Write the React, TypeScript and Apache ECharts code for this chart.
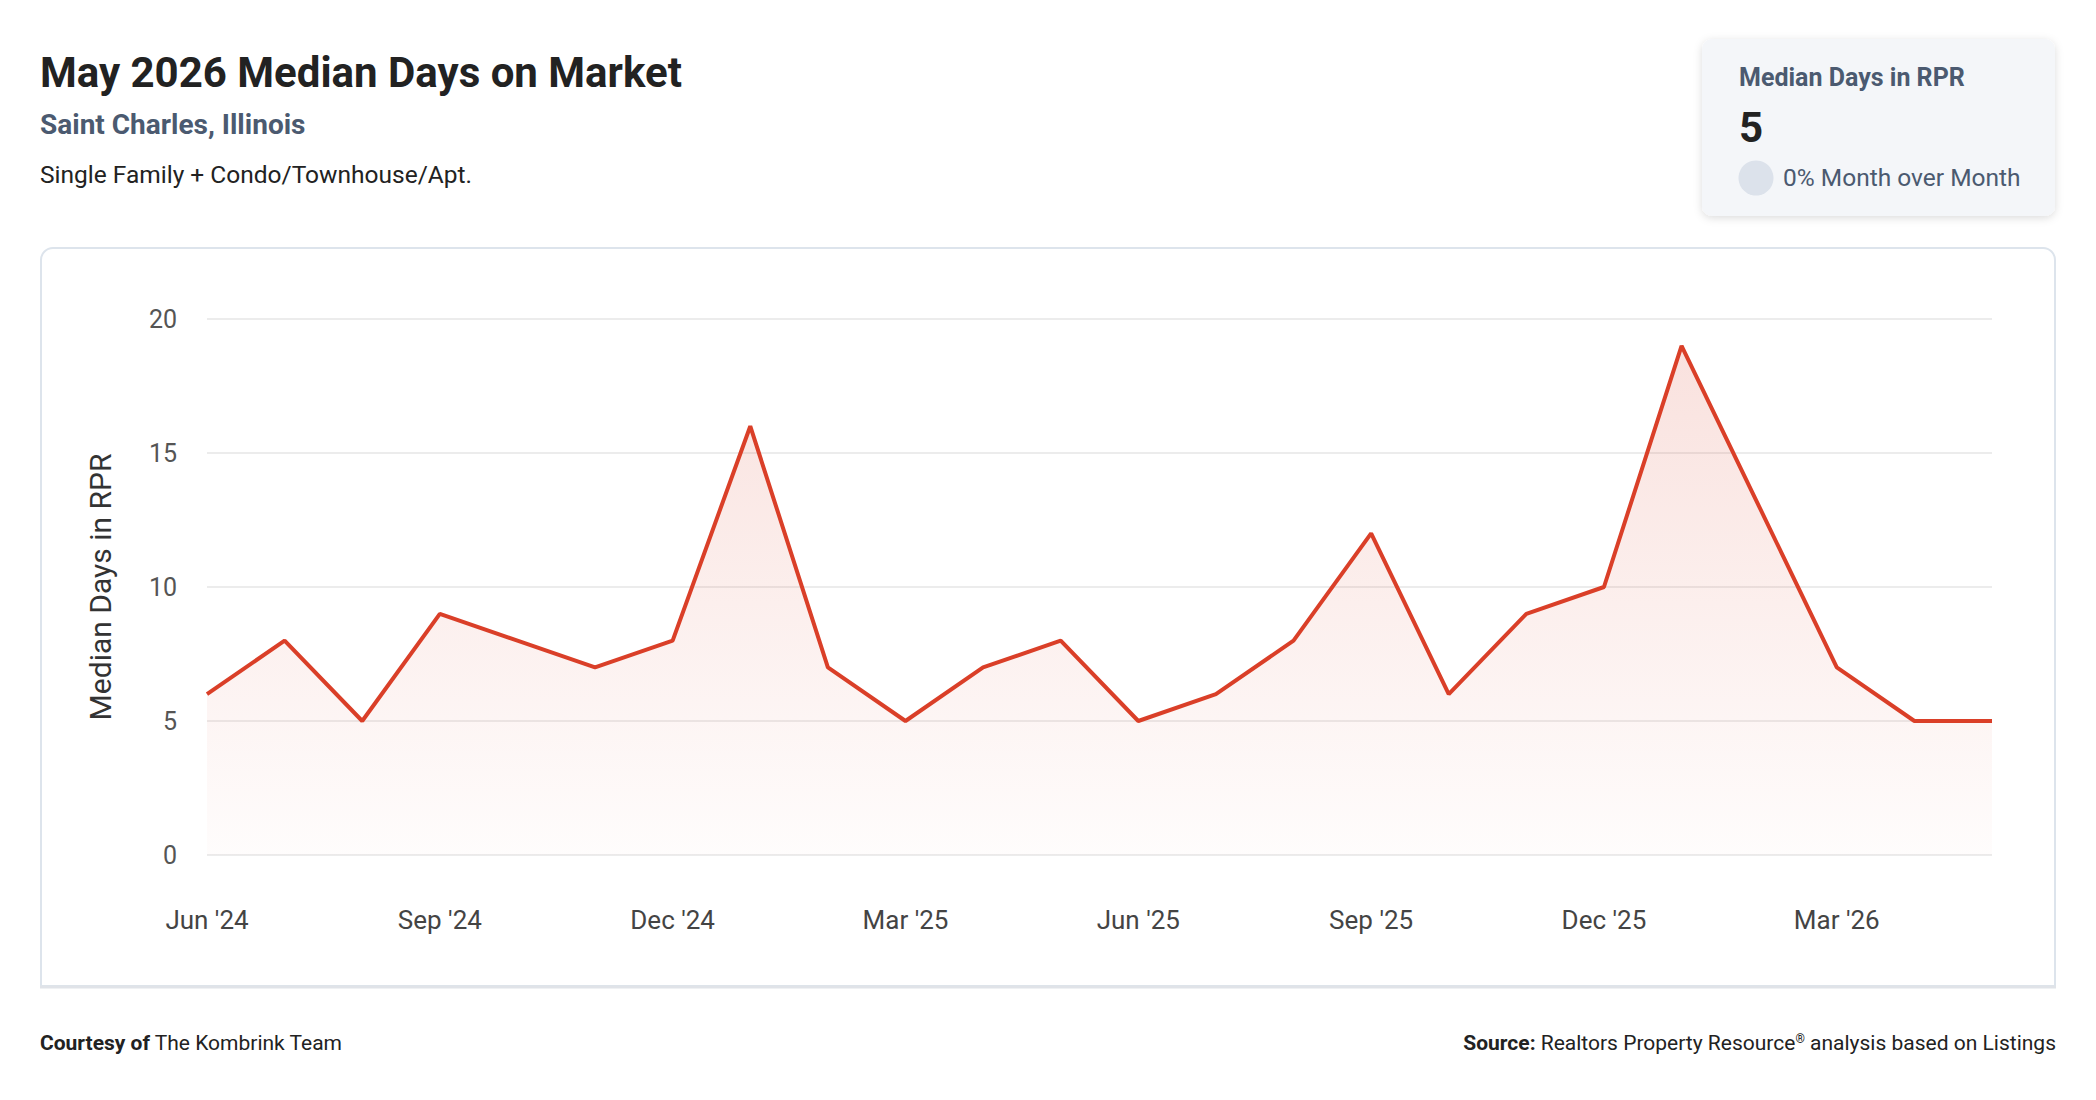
import { useEffect, useRef } from "react";
import * as echarts from "echarts";

const months = [
  "Jun '24", "Jul '24", "Aug '24", "Sep '24", "Oct '24", "Nov '24",
  "Dec '24", "Jan '25", "Feb '25", "Mar '25", "Apr '25", "May '25",
  "Jun '25", "Jul '25", "Aug '25", "Sep '25", "Oct '25", "Nov '25",
  "Dec '25", "Jan '26", "Feb '26", "Mar '26", "Apr '26", "May '26",
];
const medianDays = [6, 8, 5, 9, 8, 7, 8, 16, 7, 5, 7, 8, 5, 6, 8, 12, 6, 9, 10, 19, 13, 7, 5, 5];
const yTicks = { min: 0, max: 20, interval: 5 };

const FONT = "Roboto, 'Noto Sans', sans-serif";
const RED = "#da3f28";
const SLATE = "#4b5a70";

const App = () => {
  const chartRef = useRef<HTMLDivElement>(null);

  useEffect(() => {
    document.body.style.margin = "0";
    if (!chartRef.current) return;
    const chart = echarts.init(chartRef.current, null, { renderer: "svg" });

    chart.setOption({
      animation: false,
      backgroundColor: "#ffffff",
      textStyle: { fontFamily: FONT },
      graphic: [
        // header
        {
          type: "text", x: 40, y: 72,
          style: { text: "May 2026 Median Days on Market", font: `bold 42px ${FONT}`, fill: "#222222", verticalAlign: "middle" },
        },
        {
          type: "text", x: 40, y: 124,
          style: { text: "Saint Charles, Illinois", font: `bold 28px ${FONT}`, fill: SLATE, verticalAlign: "middle" },
        },
        {
          type: "text", x: 40, y: 174,
          style: { text: "Single Family + Condo/Townhouse/Apt.", font: `24.5px ${FONT}`, fill: "#222222", verticalAlign: "middle" },
        },
        // summary card
        {
          type: "rect", z: 0,
          shape: { x: 1702, y: 39, width: 353, height: 177, r: 10 },
          style: { fill: "#f4f6f9", shadowBlur: 8, shadowOffsetY: 2, shadowColor: "rgba(0,0,0,0.14)" },
        },
        {
          type: "text", x: 1739, y: 77, z: 1,
          style: { text: "Median Days in RPR", font: `bold 25px ${FONT}`, fill: SLATE, verticalAlign: "middle" },
        },
        {
          type: "text", x: 1739, y: 127, z: 1,
          style: { text: "5", font: `bold 42px ${FONT}`, fill: "#222222", verticalAlign: "middle" },
        },
        {
          type: "circle", z: 1,
          shape: { cx: 1756, cy: 178, r: 17.5 },
          style: { fill: "#dce2eb" },
        },
        {
          type: "text", x: 1783, y: 177, z: 1,
          style: { text: "0% Month over Month", font: `24.5px ${FONT}`, fill: SLATE, verticalAlign: "middle" },
        },
        // chart frame
        {
          type: "rect", z: -10,
          shape: { x: 41, y: 248, width: 2014, height: 738, r: [12, 12, 0, 0] },
          style: { fill: "#ffffff", stroke: "#dde4ec", lineWidth: 2 },
        },
        {
          type: "line", z: -9,
          shape: { x1: 40, y1: 987, x2: 2056, y2: 987 },
          style: { stroke: "#e0e3e8", lineWidth: 3 },
        },
        // footer
        {
          type: "text", x: 40, y: 1043,
          style: {
            text: "{b|Courtesy of} The Kombrink Team",
            font: `21px ${FONT}`, fill: "#222222", verticalAlign: "middle",
            rich: { b: { fontWeight: "bold", fontSize: 21, fontFamily: FONT, fill: "#222222" } },
          },
        },
        {
          type: "text", x: 2056, y: 1043,
          style: {
            text: "{b|Source:} Realtors Property Resource{s|®} analysis based on Listings",
            font: `21px ${FONT}`, fill: "#222222", verticalAlign: "middle", align: "right",
            rich: {
              b: { fontWeight: "bold", fontSize: 21, fontFamily: FONT, fill: "#222222" },
              s: { fontSize: 12, fontFamily: FONT, fill: "#222222", verticalAlign: "top", padding: [0, 0, 8, 0] },
            },
          },
        },
      ],
      grid: { left: 207, right: 104, top: 319, bottom: 245, containLabel: false },
      xAxis: {
        type: "category",
        data: months,
        boundaryGap: false,
        axisLine: { show: false },
        axisTick: { show: false },
        axisLabel: { interval: 2, fontSize: 26, color: "#444444", margin: 52, fontFamily: FONT },
      },
      yAxis: {
        type: "value",
        min: yTicks.min,
        max: yTicks.max,
        interval: yTicks.interval,
        name: "Median Days in RPR",
        nameLocation: "middle",
        nameRotate: 90,
        nameGap: 92,
        nameTextStyle: { fontSize: 30, color: "#333333", fontFamily: FONT },
        axisLine: { show: false },
        axisTick: { show: false },
        axisLabel: { fontSize: 25, color: "#555555", margin: 30, fontFamily: FONT },
        splitLine: { lineStyle: { color: "#e6e6e6", width: 1.5 } },
      },
      series: [
        {
          type: "line",
          data: medianDays,
          symbol: "none",
          lineStyle: { color: RED, width: 4 },
          itemStyle: { color: RED },
          areaStyle: {
            color: new echarts.graphic.LinearGradient(0, 0, 0, 1, [
              { offset: 0, color: "rgba(218,63,40,0.22)" },
              { offset: 1, color: "rgba(218,63,40,0.02)" },
            ]),
          },
        },
      ],
    });

    return () => {
      chart.dispose();
    };
  }, []);

  return <div ref={chartRef} style={{ width: 2096, height: 1100 }} />;
};

export default App;
